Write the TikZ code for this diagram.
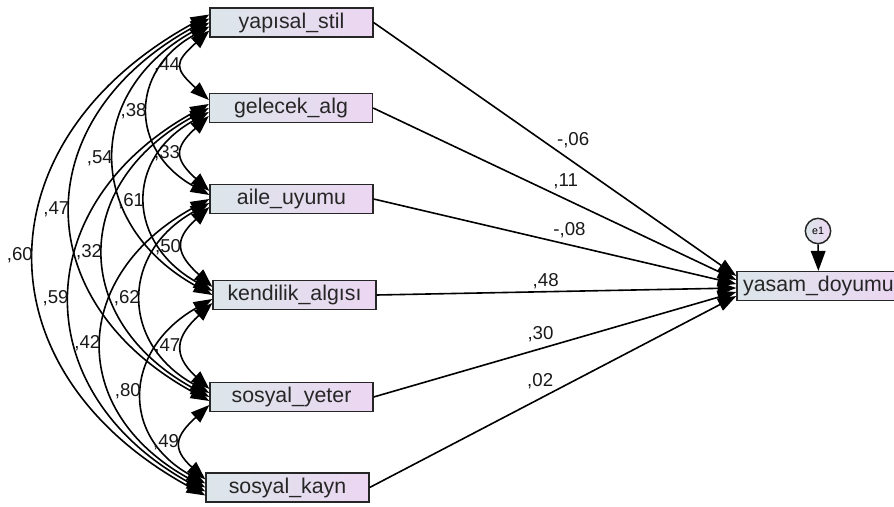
\documentclass[tikz,border=0pt]{standalone}
\usepackage{fontspec}
\setmainfont{Liberation Sans}
\usetikzlibrary{arrows.meta}
\definecolor{boxl}{RGB}{220,230,234}
\definecolor{boxr}{RGB}{236,214,242}
\tikzset{
  var/.style={draw=black!85, line width=1.2pt, left color=boxl, right color=boxr,
    minimum width=122pt, minimum height=21.5pt, inner sep=0pt,
    font=\fontsize{16}{18}\selectfont, text=black!85},
  err/.style={circle, draw=black!85, line width=1.1pt, left color=boxl, right color=boxr,
    minimum size=19pt, inner sep=0pt, font=\fontsize{8}{9}\selectfont},
  cov/.style={line width=1.2pt, {Triangle[length=14pt,width=10pt]}-{Triangle[length=14pt,width=10pt]}},
  reg/.style={line width=1.2pt, -{Triangle[length=14pt,width=10pt]}},
  lab/.style={font=\fontsize{14}{16}\selectfont, inner sep=1.5pt, text=black!90}
}
\begin{document}
\begin{tikzpicture}[x=0.75pt,y=-0.75pt]
\useasboundingbox (0,0) rectangle (894,507);
\node[var] (a) at (291.5,22.5) {yapısal\_stil};
\node[var] (b) at (291,108) {gelecek\_alg};
\node[var] (c) at (291.5,199) {aile\_uyumu};
\node[var] (d) at (294.5,295) {kendilik\_algısı};
\node[var] (e) at (291.5,397) {sosyal\_yeter};
\node[var] (f) at (287.5,487.5) {sosyal\_kayn};
\node[var] (g) at (818.5,286) {yasam\_doyumu};
\node[err] (h) at (818,231) {e1};

\draw[cov] ([yshift=-6pt]a.west) .. controls +(-35,32) and +(-35,-32) .. ([yshift=6pt]b.west) node[lab,midway,left] {,44};
\draw[cov] ([yshift=-3pt]a.west) .. controls +(-80,45) and +(-80,-45) .. ([yshift=3pt]c.west) node[lab,midway,left] {,38};
\draw[cov] (a.west) .. controls +(-127,70) and +(-127,-70) .. (d.west) node[lab,midway,left] {,54};
\draw[cov] ([yshift=3pt]a.west) .. controls +(-183,100) and +(-183,-100) .. ([yshift=-3pt]e.west) node[lab,midway,left] {,47};
\draw[cov] ([yshift=6pt]a.west) .. controls +(-229,125) and +(-229,-125) .. ([yshift=-6pt]f.west) node[lab,midway,left] {,60};
\draw[cov] ([yshift=-6pt]b.west) .. controls +(-35,32) and +(-35,-32) .. ([yshift=6pt]c.west) node[lab,midway,left] {,33};
\draw[cov] ([yshift=-3pt]b.west) .. controls +(-85,48) and +(-85,-48) .. ([yshift=3pt]d.west) node[lab,midway,left] {,61};
\draw[cov] (b.west) .. controls +(-139,76) and +(-139,-76) .. (e.west) node[lab,midway,left] {,32};
\draw[cov] ([yshift=3pt]b.west) .. controls +(-181,100) and +(-181,-100) .. ([yshift=-3pt]f.west) node[lab,midway,left] {,59};
\draw[cov] ([yshift=-6pt]c.west) .. controls +(-36,33) and +(-36,-33) .. ([yshift=6pt]d.west) node[lab,midway,left] {,50};
\draw[cov] ([yshift=-3pt]c.west) .. controls +(-89,50) and +(-89,-50) .. ([yshift=3pt]e.west) node[lab,midway,left] {,62};
\draw[cov] (c.west) .. controls +(-139,76) and +(-139,-76) .. (f.west) node[lab,midway,left] {,42};
\draw[cov] ([yshift=-6pt]d.west) .. controls +(-37,34) and +(-37,-34) .. ([yshift=6pt]e.west) node[lab,midway,left] {,47};
\draw[cov] ([yshift=-3pt]d.west) .. controls +(-87,49) and +(-87,-49) .. ([yshift=3pt]f.west) node[lab,midway,left] {,80};
\draw[cov] ([yshift=-6pt]e.west) .. controls +(-34,31) and +(-34,-31) .. ([yshift=6pt]f.west) node[lab,midway,left] {,49};

\draw[reg] (a.east) -- ([yshift=7.5pt]g.west) node[lab,pos=.55,yshift=16.5pt] {-,06};
\draw[reg] (b.east) -- ([yshift=4.5pt]g.west) node[lab,pos=.53,yshift=13.5pt] {,11};
\draw[reg] (c.east) -- ([yshift=1.5pt]g.west) node[lab,pos=.54,yshift=11pt] {-,08};
\draw[reg] (d.east) -- ([yshift=-1.5pt]g.west) node[lab,pos=.47,yshift=8pt] {,48};
\draw[reg] (e.east) -- ([yshift=-4.5pt]g.west) node[lab,pos=.46,yshift=11pt] {,30};
\draw[reg] (f.east) -- ([yshift=-7.5pt]g.west) node[lab,pos=.465,yshift=13pt] {,02};
\draw[line width=1.2pt, -{Triangle[length=15pt,width=11pt]}] (h) -- (g);
\end{tikzpicture}
\end{document}
